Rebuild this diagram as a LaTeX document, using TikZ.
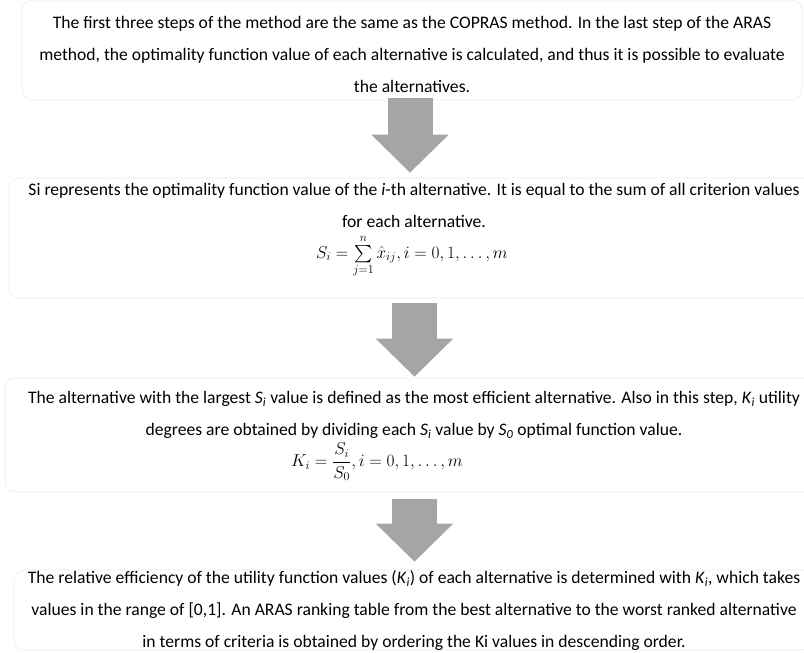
\documentclass[tikz,border=0pt]{standalone}
\usepackage{amsmath}
\usepackage{fontspec}
\setmainfont{Carlito}
\usetikzlibrary{arrows.meta}
\definecolor{ArrowGray}{RGB}{165,165,165}
\definecolor{FrameGray}{RGB}{236,236,236}

\begin{document}
\begin{tikzpicture}[x=1pt, y=-1pt,
    font=\fontsize{17.6}{32}\selectfont,
    frame/.style={draw=FrameGray, rounded corners=10pt, line width=0.6pt},
    txt/.style={align=center, inner sep=0pt},
    eq/.style={inner sep=0pt, font=\fontsize{17}{20}\selectfont},
    blk/.style={line width=45pt, ArrowGray, -{Triangle[length=38pt, width=75pt]}}
  ]
  \useasboundingbox (0,0) rectangle (804,653);
  % frames
  \node[frame, minimum width=780pt, minimum height=100pt] (box1) at (412,50) {};
  \node[frame, minimum width=806pt, minimum height=120pt] (box2) at (412,238) {};
  \node[frame, minimum width=814pt, minimum height=114pt] (box3) at (412,435) {};
  \node[frame, minimum width=796pt, minimum height=80pt]  (box4) at (412,610) {};
  % texts
  \node[txt] (t1) at (412,54) {The first three steps of the method are the same as the COPRAS method. In the last step of the ARAS\\
    method, the optimality function value of each alternative is calculated, and thus it is possible to evaluate\\
    the alternatives.};
  \node[txt] (t2) at (414,205) {Si represents the optimality function value of the \textit{i}-th alternative. It is equal to the sum of all criterion values\\
    for each alternative.};
  \node[eq, font=\fontsize{16.5}{20}\selectfont] (f1) at (412,256) {$S_i=\sum\limits_{j=1}^{n}\hat{x}_{ij}, i=0,1,\dots,m$};
  \node[txt] (t3) at (414,415) {The alternative with the largest \textit{S}\textsubscript{\textit{i}} value is defined as the most efficient alternative. Also in this step, \textit{K}\textsubscript{\textit{i}} utility\\
    degrees are obtained by dividing each \textit{S}\textsubscript{\textit{i}} value by \textit{S}\textsubscript{\textit{0}} optimal function value.};
  \node[eq] (f2) at (377,462) {$\displaystyle K_i=\frac{S_i}{S_0}, i=0,1,\dots,m$};
  \node[txt] (t4) at (414,611) {The relative efficiency of the utility function values (\textit{K}\textsubscript{\textit{i}}) of each alternative is determined with \textit{K}\textsubscript{\textit{i}}, which takes\\
    values in the range of [0,1]. An ARAS ranking table from the best alternative to the worst ranked alternative\\
    in terms of criteria is obtained by ordering the Ki values in descending order.};
  % block arrows
  \draw[blk, shorten <=-2pt, shorten >=5pt] ([xshift=-2pt]box1.south) -- ([xshift=-2pt]box2.north);
  \draw[blk, shorten <=5pt, shorten >=1pt] ([xshift=2.5pt]box2.south) -- ([xshift=2.5pt]box3.north);
  \draw[blk, shorten <=7pt, shorten >=8pt] ([xshift=2.5pt]box3.south) -- ([xshift=2.5pt]box4.north);
\end{tikzpicture}
\end{document}
